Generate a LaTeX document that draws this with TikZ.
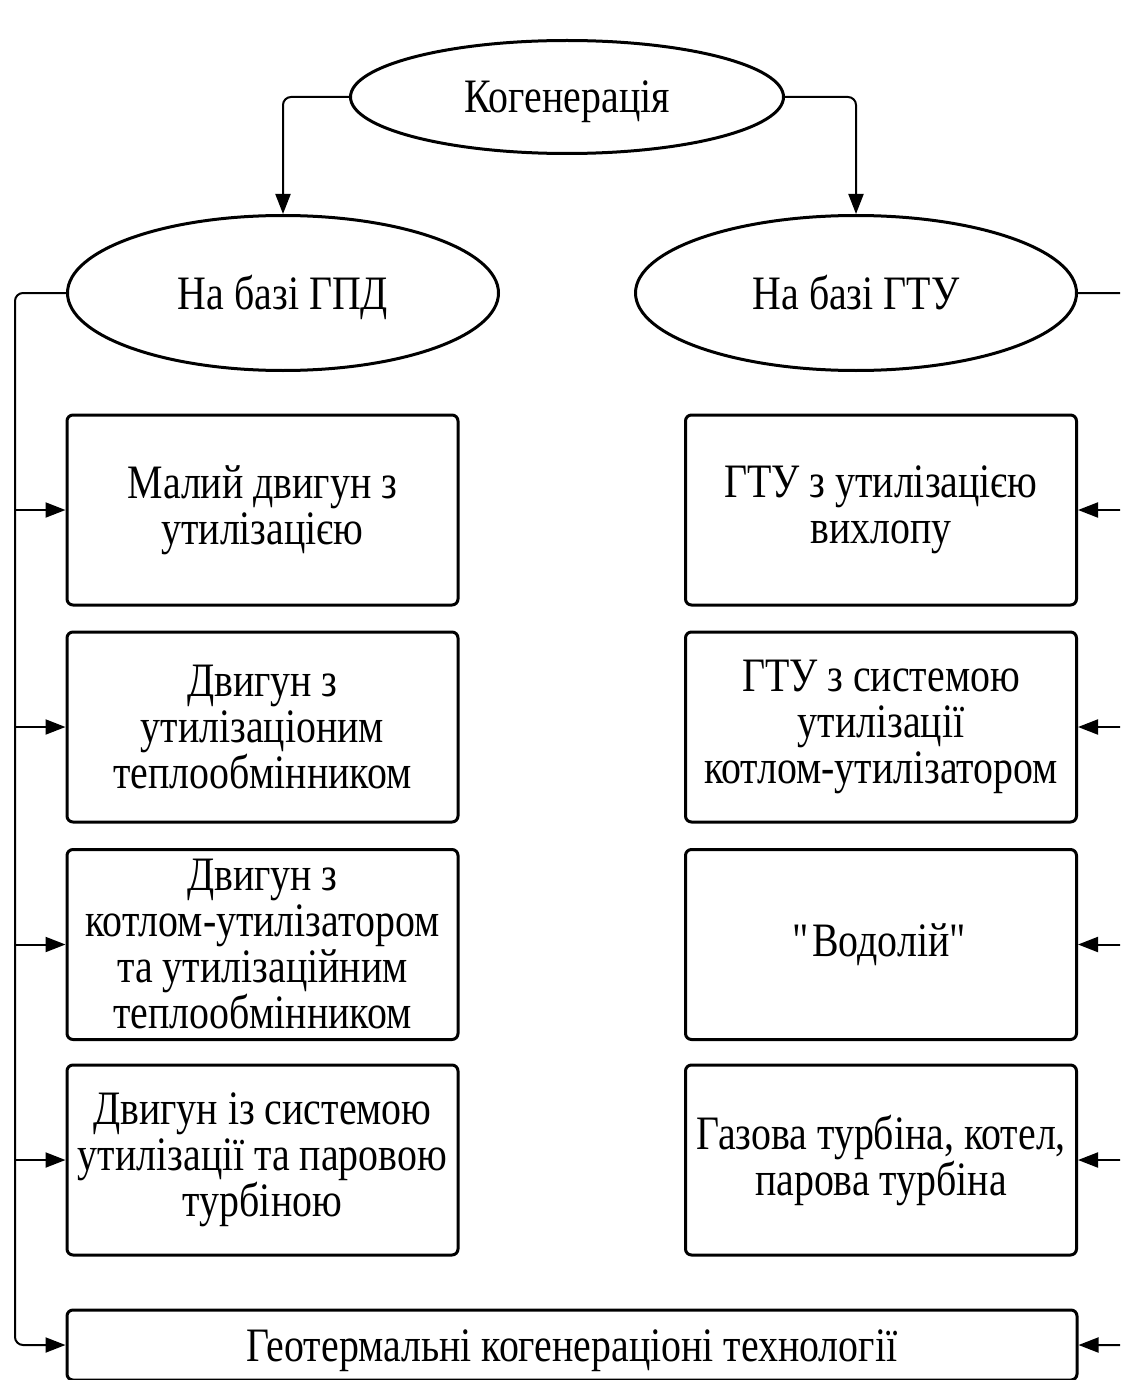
\documentclass[tikz,border=0pt]{standalone}
\usepackage{fontspec}
\setmainfont[FakeStretch=0.83]{Liberation Serif}
\usetikzlibrary{shapes.geometric,arrows.meta,calc}
\begin{document}
\begin{tikzpicture}[x=1pt,y=-1pt,
  txt/.style={font=\fontsize{48}{46}\selectfont, align=center},
  oval/.style={ellipse, draw, line width=3pt, inner sep=0pt, txt, text height=32pt, text depth=0pt},
  box/.style={draw, line width=3pt, rounded corners=6pt, inner sep=0pt, txt,
    minimum width=391pt, minimum height=190pt},
  conn/.style={line width=2pt, rounded corners=8pt},
  arr/.style={conn, -{Triangle[length=20pt,width=15pt]}}]
\useasboundingbox (0,0) rectangle (1120,1380);
\clip (0,0) rectangle (1120,1380);
\node[oval, minimum width=433pt, minimum height=113pt] (kog) at (567,97) {Когенерація};
\node[oval, minimum width=431pt, minimum height=155pt] (gpd) at (283,293) {На базі ГПД};
\node[oval, minimum width=441pt, minimum height=155pt] (gtu) at (856,293) {На базі ГТУ};

\node[box] (l1) at (262.5,510) {Малий двигун з\\утилізацією};
\node[box] (l2) at (262.5,727) {Двигун з\\утилізаціоним\\теплообмінником};
\node[box] (l3) at (262.5,944.5) {Двигун з\\котлом-утилізатором\\та утилізаційним\\теплообмінником};
\node[box] (l4) at (262.5,1160) {Двигун із системою\\утилізації та паровою\\турбіною};

\node[box] (r1) at (881,510) {ГТУ з утилізацією\\вихлопу};
\node[box] (r2) at (881,727) {ГТУ з системою\\утилізації\\котлом-утилізатором};
\node[box] (r3) at (881,944.5) {\textquotedbl Водолій\textquotedbl};
\node[box] (r4) at (881,1160) {Газова турбіна, котел,\\парова турбіна};

\node[draw, line width=3pt, rounded corners=6pt, minimum width=1010pt, minimum height=70pt, inner sep=0pt] (geo) at (572,1345) {};
\node[txt, text height=32pt, text depth=0pt] at (geo.center) {Геотермальні когенераціоні технології};

\draw[arr] (kog.west) -| (gpd.north);
\draw[arr] (kog.east) -| (gtu.north);

\coordinate (ls) at (15,293);
\coordinate (rs) at (1140,293);
\draw[arr] (gpd.west) -- (ls) |- (geo.west);
\foreach \n in {l1,l2,l3,l4} \draw[arr] (ls |- \n.west) -- (\n.west);
\draw[arr] (gtu.east) -- (rs) |- (geo.east);
\foreach \n in {r1,r2,r3,r4} \draw[arr] (rs |- \n.east) -- (\n.east);
\end{tikzpicture}
\end{document}
